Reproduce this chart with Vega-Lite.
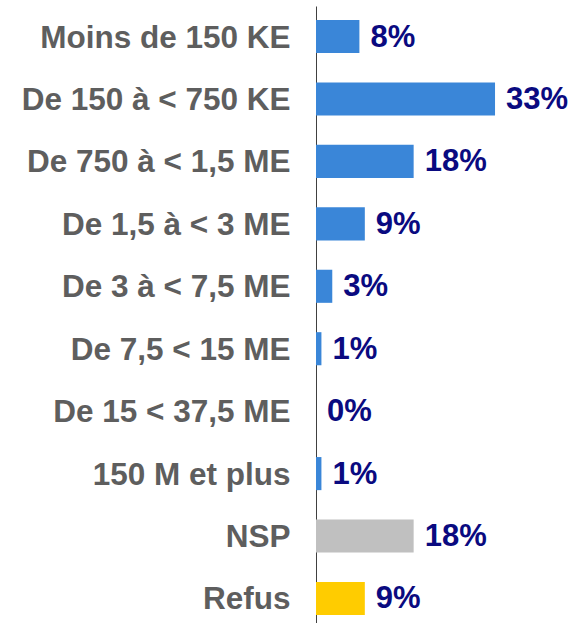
{
  "$schema": "https://vega.github.io/schema/vega-lite/v6.json",
  "width": 217,
  "height": 623,
  "autosize": {"type": "none"},
  "padding": {"left": 316, "top": 6, "right": 43, "bottom": 0},
  "background": "white",
  "config": {"view": {"stroke": null}},
  "data": {
    "values": [
      {"cat": "Moins de 150 KE", "pct": 0.08, "group": "tranche"},
      {"cat": "De 150 à < 750 KE", "pct": 0.33, "group": "tranche"},
      {"cat": "De 750 à < 1,5 ME", "pct": 0.18, "group": "tranche"},
      {"cat": "De 1,5 à < 3 ME", "pct": 0.09, "group": "tranche"},
      {"cat": "De 3 à < 7,5 ME", "pct": 0.03, "group": "tranche"},
      {"cat": "De 7,5 < 15 ME", "pct": 0.01, "group": "tranche"},
      {"cat": "De 15 < 37,5 ME", "pct": 0, "group": "tranche"},
      {"cat": "150 M et plus", "pct": 0.01, "group": "tranche"},
      {"cat": "NSP", "pct": 0.18, "group": "nsp"},
      {"cat": "Refus", "pct": 0.09, "group": "refus"}
    ]
  },
  "encoding": {
    "y": {
      "field": "cat",
      "type": "nominal",
      "sort": null,
      "scale": {"paddingInner": 0.47, "paddingOuter": 0.224},
      "axis": {
        "title": null,
        "ticks": false,
        "labelPadding": 26,
        "labelOffset": 2,
        "labelFont": "Liberation Sans",
        "labelFontWeight": "bold",
        "labelFontSize": 31.5,
        "labelColor": "#5E5E5E",
        "labelLimit": 400,
        "domainColor": "#404040",
        "domainWidth": 1
      }
    },
    "x": {
      "field": "pct",
      "type": "quantitative",
      "scale": {"domain": [0, 0.4]},
      "axis": null
    }
  },
  "layer": [
    {
      "mark": {"type": "bar"},
      "encoding": {
        "color": {
          "field": "group",
          "type": "nominal",
          "scale": {"domain": ["tranche", "nsp", "refus"], "range": ["#3A86D8", "#C0C0C0", "#FFCC00"]},
          "legend": null
        }
      }
    },
    {
      "mark": {"type": "text", "align": "left", "baseline": "middle", "dx": 11, "dy": 1, "font": "Liberation Sans", "fontWeight": "bold", "fontSize": 31, "color": "#0A0A80"},
      "encoding": {
        "text": {"field": "pct", "type": "quantitative", "format": ".0%"},
        "x": {"field": "pct", "type": "quantitative"}
      }
    }
  ]
}
